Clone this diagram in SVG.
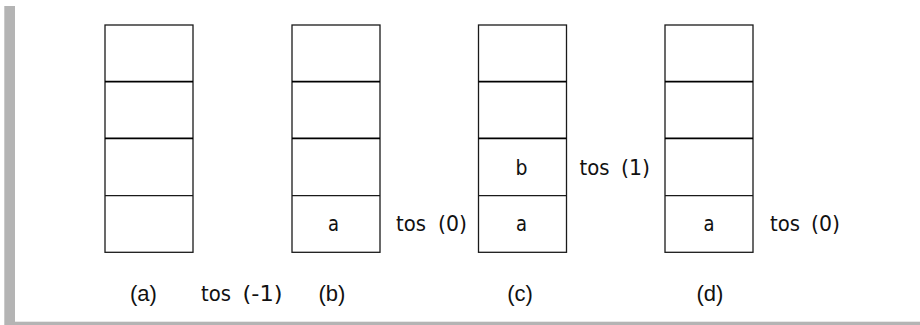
<svg xmlns="http://www.w3.org/2000/svg" width="920" height="325" viewBox="0 0 920 325">
  <style>
    .frame { fill: #b4b4b4; }
    .box { fill: #ffffff; stroke: #1a1a1a; stroke-width: 1.3; }
    .div-thick { stroke: #000000; stroke-width: 1.8; }
    .div-thin { stroke: #1a1a1a; stroke-width: 1.3; }
    .mono { font-family: "DejaVu Sans", "Noto Sans", sans-serif; font-size: 21px; fill: #111111; }
    .cap { font-family: "Liberation Sans", Arial, sans-serif; font-size: 22px; fill: #111111; text-anchor: middle; }
    .cell { text-anchor: middle; }
  </style>
  <defs>
    <g id="stack">
      <rect class="box" x="0" y="0" width="88" height="227.3"/>
      <line class="div-thick" x1="0" y1="56.7" x2="88" y2="56.7"/>
      <line class="div-thick" x1="0" y1="113.3" x2="88" y2="113.3"/>
      <line class="div-thin" x1="0" y1="170.7" x2="88" y2="170.7"/>
    </g>
  </defs>
  <rect x="0" y="0" width="920" height="325" fill="#ffffff"/>
  <g id="frame">
    <rect class="frame" x="4.3" y="6" width="10.7" height="319"/>
    <rect class="frame" x="15" y="321.7" width="905" height="3.3"/>
  </g>

  <g id="stack-a">
    <use href="#stack" x="105" y="25"/>
    <text class="cap" x="143.5" y="301">(a)</text>
    <text class="mono" x="201" y="301" textLength="30" lengthAdjust="spacingAndGlyphs">tos</text>
    <text class="mono" x="242.5" y="301" textLength="40" lengthAdjust="spacingAndGlyphs">(-1)</text>
  </g>

  <g id="stack-b">
    <use href="#stack" x="292" y="25"/>
    <text class="mono cell" x="333.5" y="231" textLength="11" lengthAdjust="spacingAndGlyphs">a</text>
    <text class="mono" x="396" y="231" textLength="30" lengthAdjust="spacingAndGlyphs">tos</text>
    <text class="mono" x="438" y="231" textLength="29" lengthAdjust="spacingAndGlyphs">(0)</text>
    <text class="cap" x="332" y="301">(b)</text>
  </g>

  <g id="stack-c">
    <use href="#stack" x="478.5" y="25"/>
    <text class="mono cell" x="521.5" y="175" textLength="12" lengthAdjust="spacingAndGlyphs">b</text>
    <text class="mono cell" x="521.5" y="231" textLength="11" lengthAdjust="spacingAndGlyphs">a</text>
    <text class="mono" x="579.5" y="175" textLength="30" lengthAdjust="spacingAndGlyphs">tos</text>
    <text class="mono" x="621" y="175" textLength="29" lengthAdjust="spacingAndGlyphs">(1)</text>
    <text class="cap" x="520" y="301">(c)</text>
  </g>

  <g id="stack-d">
    <use href="#stack" x="665" y="25"/>
    <text class="mono cell" x="709" y="231" textLength="11" lengthAdjust="spacingAndGlyphs">a</text>
    <text class="mono" x="770" y="231" textLength="30" lengthAdjust="spacingAndGlyphs">tos</text>
    <text class="mono" x="811" y="231" textLength="29" lengthAdjust="spacingAndGlyphs">(0)</text>
    <text class="cap" x="710" y="301">(d)</text>
  </g>
</svg>
